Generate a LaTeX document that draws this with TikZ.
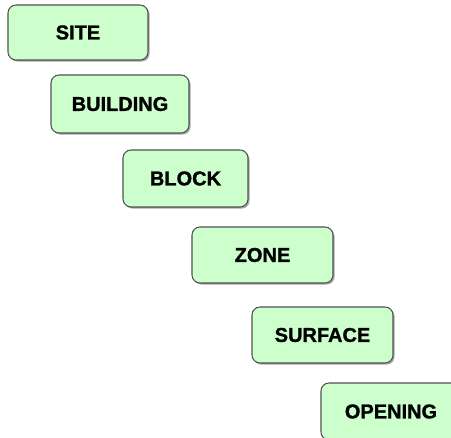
\documentclass[tikz,border=0pt]{standalone}
\usepackage{fontspec}
\setmainfont{Liberation Sans}
\newfontfamily\boxfont[FakeBold=1.2]{Liberation Sans Bold}
\usetikzlibrary{shadows}
\definecolor{boxfill}{HTML}{CCFFCC}
\definecolor{boxline}{HTML}{505050}
\tikzset{
  px/.style={x=0.75pt,y=-0.75pt},
  levelbox/.style={draw=boxline, line width=0.8pt, fill=boxfill, rounded corners=6pt,
    drop shadow={shadow xshift=1.2pt, shadow yshift=-1.2pt, fill=black!35, opacity=1},
    inner sep=0pt, font=\boxfont\fontsize{15}{17}\selectfont}
}
\begin{document}
\begin{tikzpicture}[px]
\useasboundingbox (0,0) rectangle (451,438);
\begin{scope}
\clip (0,0) rectangle (451,438);
\node[levelbox, minimum width=140*0.75pt, minimum height=55*0.75pt] (site) at (78,32.5) {SITE};
\node[levelbox, minimum width=138*0.75pt, minimum height=58*0.75pt] (building) at (120,104) {BUILDING};
\node[levelbox, minimum width=125*0.75pt, minimum height=57*0.75pt] (block) at (185.5,178.5) {BLOCK};
\node[levelbox, minimum width=141*0.75pt, minimum height=56*0.75pt] (zone) at (262.5,255) {ZONE};
\node[levelbox, minimum width=141*0.75pt, minimum height=56*0.75pt] (surface) at (322.5,335) {SURFACE};
\node[levelbox, minimum width=140*0.75pt, minimum height=57*0.75pt] (opening) at (391,411.5) {OPENING};
\end{scope}
\end{tikzpicture}
\end{document}
